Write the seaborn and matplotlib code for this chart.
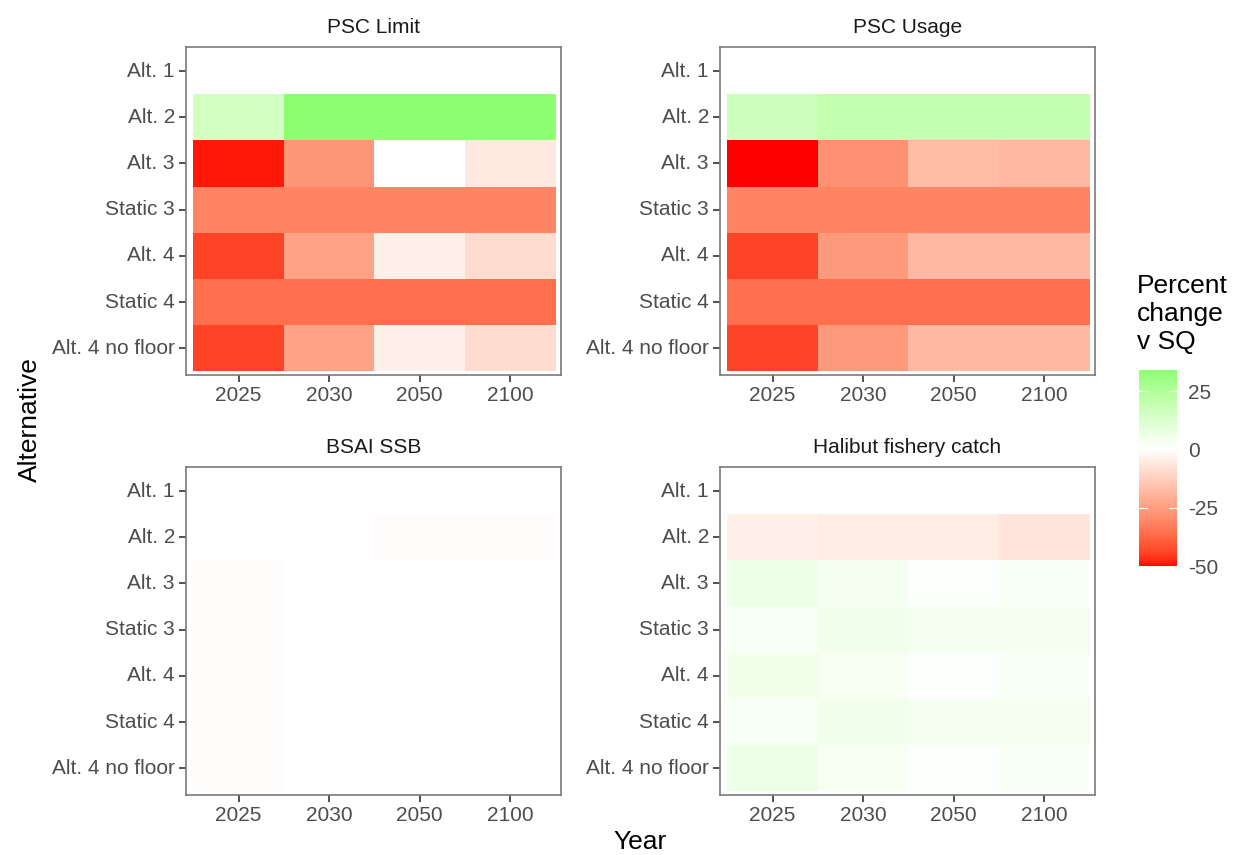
import numpy as np
import pandas as pd
import matplotlib
matplotlib.use("Agg")
import matplotlib.pyplot as plt
import seaborn as sns
from matplotlib.colors import ListedColormap, Normalize
from matplotlib.cm import ScalarMappable

# ---- data: percent change vs status quo ----
years = ["2025", "2030", "2050", "2100"]
alternatives = ["Alt. 1", "Alt. 2", "Alt. 3", "Static 3", "Alt. 4", "Static 4", "Alt. 4 no floor"]

psc_limit = [
    [0, 0, 0, 0],
    [15, 34, 34, 34],
    [-49, -27, 0, -6],
    [-31, -31, -31, -31],
    [-44, -24, -4, -9],
    [-36, -36, -36, -36],
    [-44, -24, -4, -9],
]
psc_usage = [
    [0, 0, 0, 0],
    [17, 20, 20, 20],
    [-50, -28, -17, -18],
    [-31, -31, -31, -31],
    [-44, -26, -18, -18],
    [-36, -36, -36, -36],
    [-44, -26, -18, -18],
]
bsai_ssb = [
    [0, 0, 0, 0],
    [0, 0, -0.6, -0.6],
    [-0.5, 0.1, 0.1, 0.2],
    [-0.4, 0.2, 0.2, 0.2],
    [-0.5, 0.2, 0.1, 0.2],
    [-0.4, 0.1, 0.2, 0.2],
    [-0.5, 0.2, 0.1, 0.2],
]
halibut_catch = [
    [0, 0, 0, 0],
    [-4, -5, -5, -7],
    [6, 3.5, 1, 2.5],
    [2.5, 4.5, 3.5, 3.5],
    [5, 3, 1, 2.5],
    [2.5, 4.5, 4, 4],
    [6, 3, 1, 2.5],
]
panel_titles = ["PSC Limit", "PSC Usage", "BSAI SSB", "Halibut fishery catch"]
panel_values = [psc_limit, psc_usage, bsai_ssb, halibut_catch]
legend_ticks = [25, 0, -25, -50]


# ---- diverging red-white-green palette interpolated in CIE Lab ----
_M = np.array([[0.4124, 0.3576, 0.1805],
               [0.2126, 0.7152, 0.0722],
               [0.0193, 0.1192, 0.9505]])
_WHITE = np.array([0.95047, 1.0, 1.08883])


def srgb_to_lab(rgb):
    c = np.asarray(rgb, float)
    lin = np.where(c <= 0.04045, c / 12.92, ((c + 0.055) / 1.055) ** 2.4)
    xyz = _M @ lin / _WHITE
    f = np.where(xyz > 0.008856, np.cbrt(xyz), 7.787 * xyz + 16 / 116)
    return np.array([116 * f[1] - 16, 500 * (f[0] - f[1]), 200 * (f[1] - f[2])])


def lab_to_srgb(lab):
    L, a, b = lab
    fy = (L + 16) / 116
    fx = fy + a / 500
    fz = fy - b / 200
    f = np.array([fx, fy, fz])
    xyz = np.where(f ** 3 > 0.008856, f ** 3, (f - 16 / 116) / 7.787) * _WHITE
    lin = np.linalg.solve(_M, xyz)
    lin = np.clip(lin, 0, 1)
    c = np.where(lin <= 0.0031308, 12.92 * lin, 1.055 * lin ** (1 / 2.4) - 0.055)
    return np.clip(c, 0, 1)


low, mid, high = srgb_to_lab([1, 0, 0]), srgb_to_lab([1, 1, 1]), srgb_to_lab([0, 1, 0])
colors = []
for s in np.linspace(0, 1, 512):
    if s < 0.5:
        t = s / 0.5
        lab = low + (mid - low) * t
    else:
        t = (s - 0.5) / 0.5
        lab = mid + (high - mid) * t
    colors.append(lab_to_srgb(lab))
cmap = ListedColormap(colors)
VMIN, VMAX = -50, 50
CBAR_TOP = max(max(row) for vals in panel_values for row in vals)

# ---- figure ----
W, H = 1236, 855
fig = plt.figure(figsize=(W / 100, H / 100), dpi=100)
plt.rcParams["font.family"] = ["Liberation Sans", "DejaVu Sans"]
plt.rcParams["axes.unicode_minus"] = False

TEXT = "#4D4D4D"
FRAME = "#7A7A7A"

boxes = [  # left, top, right, bottom in pixels
    (186, 47, 561, 375),
    (720, 47, 1095, 375),
    (186, 467, 561, 795),
    (720, 467, 1095, 795),
]

for i, (title, vals) in enumerate(zip(panel_titles, panel_values)):
    l, t, r, b = boxes[i]
    ax = fig.add_axes([l / W, 1 - b / H, (r - l) / W, (b - t) / H])
    df = pd.DataFrame(vals, index=alternatives, columns=years)
    sns.heatmap(df, ax=ax, cmap=cmap, vmin=VMIN, vmax=VMAX, cbar=False,
                linewidths=0, square=False)
    ax.set_xlim(-0.08, 4.06)
    ax.set_ylim(7.08, -0.02)
    for sp in ax.spines.values():
        sp.set_visible(True)
        sp.set_color(FRAME)
        sp.set_linewidth(1.2)
    ax.tick_params(axis="both", colors="#333333", labelcolor=TEXT,
                   labelsize=15, length=5, width=1.2, pad=3)
    ax.set_yticklabels(alternatives, rotation=0)
    ax.set_xticklabels(years, rotation=0)
    ax.set_xlabel("")
    ax.set_ylabel("")
    ax.set_title(title, fontsize=15, color="#1A1A1A", pad=10)

fig.text(30 / W, 1 - 420 / H, "Alternative", rotation=90, fontsize=19,
         ha="center", va="center", color="black")
fig.text(640 / W, 1 - 842 / H, "Year", fontsize=19, ha="center",
         va="center", color="black")

# ---- colour bar ----
cax = fig.add_axes([1139 / W, 1 - 566 / H, 38 / W, 196 / H])
sm = ScalarMappable(norm=Normalize(VMIN, VMAX), cmap=cmap)
cb = fig.colorbar(sm, cax=cax, boundaries=np.linspace(VMIN, CBAR_TOP, 300),
                  ticks=legend_ticks)
cb.outline.set_visible(False)
cax.tick_params(length=0, labelsize=15, labelcolor=TEXT, pad=8)
for tv in legend_ticks:
    cax.plot([0, 0.2], [tv, tv], color="white", lw=0.8, transform=cax.get_yaxis_transform())
    cax.plot([0.8, 1], [tv, tv], color="white", lw=0.8, transform=cax.get_yaxis_transform())
fig.text(1137 / W, 1 - 274 / H, "Percent\nchange\nv SQ", fontsize=19,
         ha="left", va="top", color="black", linespacing=1.2)

fig.savefig("out.png", dpi=100)
